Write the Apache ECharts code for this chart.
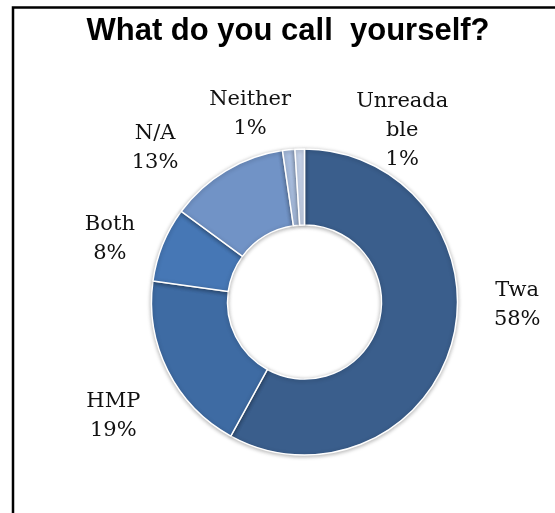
<!DOCTYPE html>
<html>
<head>
<meta charset="utf-8">
<script src="https://cdn.jsdelivr.net/npm/echarts@6/dist/echarts.min.js"></script>
<style>
    html, body { margin: 0; padding: 0; background: #fff; }
    #chart { width: 555px; height: 513px; }
</style>
</head>
<body>
<div id="chart"></div>
<script>
// slices, clockwise from 12 o'clock
const names = ['Twa', 'HMP', 'Both', 'N/A', 'Neither', 'Unreadable']
const shares = [58.0, 19.2, 7.9, 12.6, 1.3, 1.0]
const colors = ['#3a5e8c', '#3e6ba3', '#4677b5', '#7193c6', '#a8bdde', '#c6d3ea']

// nudges for the labels, Excel put them by hand
const labelNudge = [
    [45, -39],
    [-36, 39],
    [-34, 0],
    [-58, -10],
    [-32, -21],
    [108, -4]
]

const chart = echarts.init(document.getElementById('chart'))

chart.setOption({
    animation: false,
    title: {
        text: 'What do you call  yourself?',
        left: 283,
        top: 11,
        textAlign: 'center',
        textStyle: {
            fontFamily: 'Liberation Sans',
            fontWeight: 'bold',
            fontSize: 31,
            color: '#000'
        }
    },
    graphic: [
        {
            type: 'rect',
            shape: { x: 13, y: 7.5, width: 700, height: 700 },
            style: { fill: 'none', stroke: '#000', lineWidth: 2.5 },
            silent: true
        }
    ],
    series: [
        {
            type: 'pie',
            center: [304.5, 302],
            radius: [77, 153],
            startAngle: 90,
            clockwise: true,
            avoidLabelOverlap: false,
            itemStyle: {
                borderColor: '#fff',
                borderWidth: 1.5,
                shadowBlur: 4,
                shadowColor: 'rgba(0, 0, 0, 0.3)',
                shadowOffsetY: 1
            },
            label: {
                show: true,
                position: 'outside',
                fontFamily: 'DejaVu Serif',
                fontSize: 21,
                lineHeight: 29,
                color: '#111',
                formatter: p => `${p.name}\n${Math.round(p.percent)}%`
            },
            labelLine: { show: false, length: 15, length2: 0 },
            labelLayout: p => ({
                align: 'center',
                verticalAlign: 'middle',
                dx: labelNudge[p.dataIndex][0],
                dy: labelNudge[p.dataIndex][1]
            }),
            emphasis: { disabled: true },
            data: names.map((n, i) => ({
                name: n,
                value: shares[i],
                itemStyle: { color: colors[i] },
                label: n === 'Unreadable' ? { width: 95, overflow: 'breakAll' } : {}
            }))
        }
    ]
})
</script>
</body>
</html>
